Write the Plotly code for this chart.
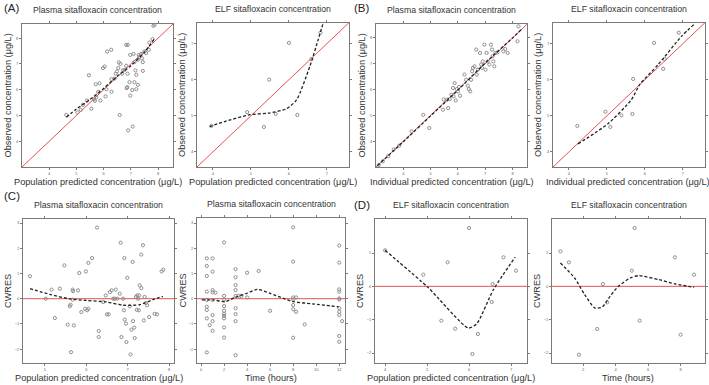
import plotly.graph_objects as go

# ---------------- data ----------------
# (A) Plasma: population predicted vs observed
a1_x = [4.63,5.04,5.16,5.24,5.39,5.46,5.55,5.65,5.68,5.71,5.73,5.85,5.88,5.80,5.98,6.04,6.07,6.13,6.28,6.10,
        6.29,6.29,6.44,6.49,6.54,6.56,6.62,6.59,6.68,6.71,6.77,6.83,6.89,6.83,6.88,6.87,6.85,6.95,6.98,6.90,
        6.98,7.05,7.07,7.10,7.13,7.17,7.20,7.26,7.26,7.29,7.32,7.38,7.41,7.44,7.44,7.50,7.56,7.66,7.68,7.80,
        7.83,7.87,7.20,7.13,6.40]
a1_y = [5.02,5.12,5.22,5.41,5.58,6.56,5.26,5.63,5.57,6.21,5.70,6.25,5.58,5.92,6.84,6.90,5.74,7.48,7.55,6.02,
        6.41,5.92,6.62,6.71,6.84,7.06,7.00,5.02,6.62,6.75,6.77,7.74,7.74,6.93,6.62,6.10,6.06,6.29,7.35,4.42,
        5.77,5.99,4.57,7.39,7.07,6.75,6.58,7.16,6.19,7.35,7.29,7.39,7.22,7.07,6.73,7.48,7.42,7.55,7.83,7.96,
        8.48,8.52,6.02,6.29,6.43]
a1_fit_x = [4.63,5.0,5.5,6.0,6.5,7.0,7.5,7.85]
a1_fit_y = [4.93,5.25,5.62,6.05,6.52,6.93,7.45,7.95]

# (A) ELF: population predicted vs observed
a2_x = [3.96,4.90,5.34,5.48,5.65,6.00,6.22,6.59,6.83]
a2_y = [4.72,5.10,4.69,6.00,5.05,7.02,5.02,6.57,7.30]
a2_fit_x = [3.91,4.31,4.97,5.45,5.93,6.20,6.55,6.77,6.90]
a2_fit_y = [4.70,4.84,5.03,5.07,5.19,5.44,6.37,7.11,7.57]

# (B) Plasma: individual predicted vs observed
b1_x = [3.10,3.25,3.45,3.65,3.85,4.30,4.73,4.95,5.45,5.48,5.60,5.64,5.70,5.76,5.82,5.84,5.88,5.92,5.96,6.00,
        6.04,6.08,6.24,6.30,6.36,6.40,6.45,6.48,6.52,6.55,6.61,6.67,6.69,6.73,6.81,6.85,6.88,6.91,6.97,7.01,
        7.05,7.09,7.15,7.21,7.25,7.27,7.30,7.33,7.37,7.45,7.66,7.73,7.82,8.18,8.22]
b1_y = [3.08,3.22,3.42,3.68,3.83,4.38,5.02,4.51,5.22,5.61,5.61,5.28,5.63,5.80,6.06,5.74,6.25,5.58,6.02,5.93,
        6.10,5.76,6.58,6.38,6.15,6.02,5.93,6.38,6.71,6.84,6.90,7.55,6.58,6.77,7.42,6.97,6.84,7.09,7.74,6.77,
        7.42,7.09,6.97,7.74,7.55,7.29,7.09,6.90,7.42,7.44,7.48,7.57,7.42,7.87,8.45]
b1_fit_x = [3.05,4.0,5.0,6.0,7.0,8.0,8.35]
b1_fit_y = [3.05,3.98,4.98,5.98,7.03,8.0,8.35]

# (B) ELF: individual predicted vs observed
b2_x = [4.22,4.96,5.09,5.38,5.67,5.69,6.24,6.48,6.52,6.89]
b2_y = [4.72,5.11,4.69,5.01,5.05,6.02,7.02,6.30,6.57,7.30]
b2_fit_x = [4.24,5.03,5.64,5.86,6.35,6.96,7.32]
b2_fit_y = [4.22,4.78,5.44,5.86,6.42,7.20,7.56]

# (C) Plasma CWRES vs population predicted
c1_x = [4.64,5.02,5.16,5.24,5.36,5.47,5.55,5.60,5.63,5.62,5.67,5.67,5.68,5.70,5.80,5.83,5.88,5.97,5.99,6.02,
        6.05,6.05,6.14,6.26,6.30,6.30,6.41,6.47,6.50,6.54,6.57,6.61,6.65,6.69,6.71,6.75,6.81,6.83,6.85,6.89,
        6.91,6.92,6.93,6.96,6.97,6.99,7.05,7.07,7.09,7.12,7.13,7.16,7.17,7.20,7.22,7.23,7.25,7.27,7.28,7.29,
        7.33,7.37,7.39,7.41,7.44,7.47,7.52,7.65,7.71,7.82,7.86,7.33]
c1_y = [0.89,0.00,0.36,-0.77,0.40,1.32,-1.03,-0.30,-2.12,-0.24,-0.04,0.36,0.30,-1.06,0.33,1.02,-0.53,-0.40,1.08,-0.46,
        -0.40,1.42,1.61,2.82,-1.28,-1.52,-0.13,0.13,-0.62,-0.62,0.26,0.33,0.00,0.00,0.36,0.00,0.20,2.22,-1.52,0.00,
        -0.46,1.61,-0.83,-0.99,-1.72,0.83,-0.30,-2.21,-1.23,1.46,-0.89,-1.15,-1.56,0.07,-0.44,0.13,0.00,-0.46,0.13,0.53,
        1.75,2.12,-0.86,0.07,-0.17,-0.26,-0.73,-0.60,-0.62,1.08,1.15,0.42]
c1_fit_x = [4.64,5.12,5.60,6.00,6.49,6.89,7.29,7.61,7.85]
c1_fit_y = [0.40,0.17,-0.01,-0.07,-0.13,-0.26,-0.24,-0.04,0.09]

# (C) Plasma CWRES vs time
c2_x = [0.5,0.5,0.5,0.5,0.5,0.5,0.5,0.5,0.5,0.75,
        1,1,1,1,1,1,1,1,1.25,
        2,2,2,2,2,2,2,2,2,2,
        3,3,3,3,3,3,3,3,3,3.25,3.5,
        4,4,5,6,
        8,8,8,8,8,8,8,8.25,8.25,9,
        12,12,12,12,12,12,12,12,12,12,12,12.25]
c2_y = [1.60,1.30,0.90,0.28,-0.32,-0.45,-0.78,-2.13,-0.05,-1.05,
        1.60,1.07,0.34,0.25,-0.65,-0.89,-1.27,-0.05,0.24,
        2.23,0.11,-0.03,-0.29,-0.61,-0.69,-0.78,-1.14,-1.54,-0.48,
        1.17,0.85,0.54,0.34,0.11,-0.38,-0.61,-0.89,-2.24,0.11,0.11,
        1.03,0.05,1.10,-0.48,
        2.83,1.47,0.05,-0.03,-0.25,-0.42,-1.55,0.05,-0.52,-1.02,
        2.11,1.43,0.37,0.28,0.01,-0.03,-0.38,-0.52,-0.65,-1.48,-1.71,-0.89]
c2_fit_x = [0.06,1.07,2.09,2.96,3.97,4.90,6.00,7.16,8.03,9.77,11.94]
c2_fit_y = [-0.05,-0.05,-0.12,0.05,0.21,0.37,0.21,0.01,-0.12,-0.21,-0.32]

# (D) ELF CWRES vs population predicted
d1_x = [4.00,4.91,5.49,5.34,5.67,6.00,6.21,6.08,6.54,6.56,6.82,7.12]
d1_y = [1.08,0.35,0.72,-1.03,-1.27,1.75,-1.43,-2.03,-0.47,0.07,0.87,0.47]
d1_fit_x = [4.00,5.02,5.98,6.18,6.58,7.10]
d1_fit_y = [1.08,-0.03,-1.25,-1.13,-0.10,0.88]

# (D) ELF CWRES vs time
d2_x = [0.61,1.13,1.75,2.87,3.22,3.49,5.00,5.17,5.48,7.65,8.00,8.83]
d2_y = [1.05,0.72,-2.05,-1.28,0.07,-0.48,0.47,1.75,-1.03,0.87,-1.45,0.35]
d2_fit_x = [0.61,1.48,2.10,2.72,3.18,3.66,4.17,4.90,5.42,6.66,7.69,8.83]
d2_fit_y = [0.70,0.25,-0.25,-0.65,-0.62,-0.30,0.00,0.25,0.32,0.20,0.07,-0.03]

titles = ["Plasma sitafloxacin concentration", "ELF sitafloxacin concentration",
          "Plasma sitafloxacin concentration", "ELF sitafloxacin concentration",
          "Plasma sitafloxacin concentration", "Plasma sitafloxacin concentration",
          "ELF sitafloxacin concentration", "ELF sitafloxacin concentration"]
xtitles = ["Population predicted concentration (μg/L)", "Population predicted concentration (μg/L)",
           "Individual predicted concentration (μg/L)", "Individual predicted concentration (μg/L)",
           "Population predicted concentration (μg/L)", "Time (hours)",
           "Population predicted concentration (μg/L)", "Time (hours)"]
ytitles = ["Observed concentration (μg/L)"] * 4 + ["CWRES"] * 4
panel_labels = ["(A)", "(B)", "(C)", "(D)"]

# ---------------- layout geometry (pixels) ----------------
W, H = 709, 385
boxes = [(22, 173, 24, 167), (197, 349, 23, 167), (376, 527, 24, 167), (553, 705, 23, 167),
         (23, 174, 219, 363), (197, 345, 218, 363), (375, 527, 219, 363), (552, 705, 219, 363)]
xranges = [[3.0, 8.55], [3.58, 7.58], [3.0, 8.53], [3.58, 7.58],
           [4.47, 8.12], [-0.35, 12.5], [3.76, 7.38], [0.09, 9.5]]
yranges = [[3.0, 8.55], [3.58, 7.57], [3.0, 8.54], [3.58, 7.57],
           [-2.55, 3.16], [-2.55, 3.2], [-2.3, 2.02], [-2.3, 2.02]]
xticks = [[4, 5, 6, 7, 8], [4, 5, 6, 7], [4, 5, 6, 7, 8], [4, 5, 6, 7],
          [5, 6, 7, 8], [0, 2, 4, 6, 8, 10, 12], [4, 5, 6, 7], [2, 4, 6, 8]]
yticks = [[4, 5, 6, 7, 8], [4, 5, 6, 7], [4, 5, 6, 7, 8], [4, 5, 6, 7],
          [-2, -1, 0, 1, 2, 3], [-2, -1, 0, 1, 2, 3], [-2, -1, 0, 1], [-2, -1, 0, 1]]

pts = [(a1_x, a1_y), (a2_x, a2_y), (b1_x, b1_y), (b2_x, b2_y),
       (c1_x, c1_y), (c2_x, c2_y), (d1_x, d1_y), (d2_x, d2_y)]
fits = [(a1_fit_x, a1_fit_y), (a2_fit_x, a2_fit_y), (b1_fit_x, b1_fit_y), (b2_fit_x, b2_fit_y),
        (c1_fit_x, c1_fit_y), (c2_fit_x, c2_fit_y), (d1_fit_x, d1_fit_y), (d2_fit_x, d2_fit_y)]

FONT = "Liberation Sans, Arial, sans-serif"
RED = "#e8514f"
GRAY = "#8f8f8f"
AXC = "#7a7a7a"

fig = go.Figure()
layout = dict(width=W, height=H, margin=dict(l=0, r=0, t=0, b=0),
              paper_bgcolor="white", plot_bgcolor="white", showlegend=False,
              font=dict(family=FONT, color="#333"))
annotations = []

for i in range(8):
    n = i + 1
    xa = "x" if n == 1 else f"x{n}"
    ya = "y" if n == 1 else f"y{n}"
    x0, x1, y0, y1 = boxes[i]
    axstyle = dict(showgrid=False, zeroline=False, showline=True, linecolor=AXC, linewidth=1,
                   mirror="allticks", ticks="outside", ticklen=2, tickcolor=AXC, tickwidth=0.8,
                   tickfont=dict(size=4, color="#666", family=FONT))
    layout["xaxis" if n == 1 else f"xaxis{n}"] = dict(
        domain=[x0 / W, x1 / W], range=xranges[i], tickvals=xticks[i],
        anchor=ya, **axstyle)
    layout["yaxis" if n == 1 else f"yaxis{n}"] = dict(
        domain=[1 - y1 / H, 1 - y0 / H], range=yranges[i], tickvals=yticks[i],
        anchor=xa, **axstyle)

    # reference line
    if i < 4:
        lo = min(xranges[i][0], yranges[i][0])
        hi = max(xranges[i][1], yranges[i][1])
        fig.add_trace(go.Scatter(x=[lo, hi], y=[lo, hi], mode="lines",
                                 line=dict(color=RED, width=1), xaxis=xa, yaxis=ya,
                                 hoverinfo="skip"))
    else:
        fig.add_trace(go.Scatter(x=xranges[i], y=[0, 0], mode="lines",
                                 line=dict(color=RED, width=1), xaxis=xa, yaxis=ya,
                                 hoverinfo="skip"))

    px, py = pts[i]
    fig.add_trace(go.Scatter(x=px, y=py, mode="markers", xaxis=xa, yaxis=ya,
                             marker=dict(symbol="circle-open", size=3.2,
                                         color=GRAY, line=dict(width=1, color=GRAY))))
    fx, fy = fits[i]
    fig.add_trace(go.Scatter(x=fx, y=fy, mode="lines", xaxis=xa, yaxis=ya,
                             line=dict(color="#222", width=1.3, dash="3px,2px", shape="spline",
                                       smoothing=0.6)))

    cx = (x0 + x1) / 2
    annotations.append(dict(text=titles[i], x=cx / W, y=1 - (y0 - 14) / H, xref="paper", yref="paper",
                            showarrow=False, xanchor="center", yanchor="middle",
                            font=dict(size=8.7, color="#333", family=FONT)))
    annotations.append(dict(text=xtitles[i], x=min(cx, 628) / W, y=1 - (y1 + 15) / H,
                            xref="paper", yref="paper",
                            showarrow=False, xanchor="center", yanchor="middle",
                            font=dict(size=9.2, color="#333", family=FONT)))
    annotations.append(dict(text=ytitles[i], x=(x0 - 15) / W, y=1 - ((y0 + y1) / 2) / H,
                            xref="paper", yref="paper", showarrow=False, textangle=-90,
                            xanchor="center", yanchor="middle",
                            font=dict(size=9.2, color="#333", family=FONT)))

label_pos = [(2, 8), (352, 8), (2, 196), (352, 205)]
for lab, (lx, ly) in zip(panel_labels, label_pos):
    annotations.append(dict(text=lab, x=lx / W, y=1 - ly / H, xref="paper", yref="paper",
                            showarrow=False, xanchor="left", yanchor="middle",
                            font=dict(size=11.5, color="#222", family=FONT)))

layout["annotations"] = annotations
fig.update_layout(**layout)
fig.write_html("out.html")
